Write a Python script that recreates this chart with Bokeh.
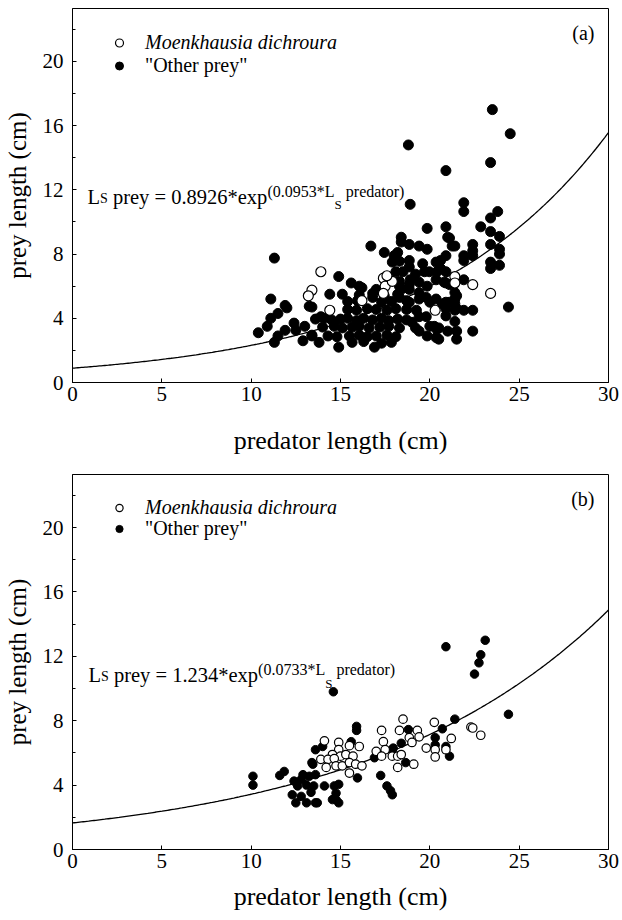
from bokeh.plotting import figure
from bokeh.models import Range1d, SingleIntervalTicker, Label, Legend, LegendItem
from bokeh.layouts import column
from bokeh.embed import file_html
from bokeh.resources import INLINE
import numpy as np

FONT = "Liberation Serif"

# ---------------- data: panel (a) ----------------
a_other_x = [11.3, 11.1, 11.9, 12.0, 11.5, 11.1, 10.9, 10.4, 11.5, 11.9, 12.4, 12.5, 13.0, 11.3, 12.9, 13.4, 13.4, 13.9,
             16.7, 17.45, 18.0, 18.2, 18.4, 18.85, 19.4, 19.85, 20.9, 21.25, 17.9, 18.3, 18.85, 18.85, 19.6, 20.35,
             18.1, 18.5, 19.2, 19.7, 19.97, 20.4, 20.9, 14.9, 14.4, 16.2, 17.0, 16.8, 18.3, 18.4, 18.9, 18.85, 19.4,
             19.85, 20.35, 20.8, 19.4, 20.0, 18.7, 18.3, 20.9, 21.5, 13.25, 14.9, 16.9, 19.2, 19.4, 20.0, 20.25, 20.4,
             19.85, 20.35, 21.0, 21.5, 21.5,
             13.6, 14.1, 14.5, 15.0, 15.4, 15.9, 16.3, 16.8, 17.3, 17.7, 18.2, 18.7,
             14.0, 14.65, 15.1, 15.65, 16.05, 16.6, 17.2, 17.7, 18.3,
             13.4, 14.3, 14.8, 15.5, 16.05, 16.5, 17.0, 17.6, 18.1,
             13.8, 15.65, 16.3, 17.3, 17.85,
             15.4, 15.9, 16.5, 17.0, 17.6, 18.1, 18.7, 19.25,
             15.4, 15.95, 17.3, 17.85, 18.85,
             15.1, 16.05, 16.8, 17.45, 18.2,
             15.6, 16.05, 18.3, 18.85,
             19.4, 19.8, 20.35, 20.7, 21.1, 21.5, 19.4, 19.8, 19.0,
             23.4, 20.9, 21.9, 21.9, 23.8, 23.4, 20.9, 22.85, 23.4, 23.9, 21.1, 21.4, 22.4, 22.4, 22.4, 23.4, 23.9,
             23.9, 21.9, 21.9, 20.6, 20.6, 23.4, 23.4, 23.9, 21.9, 20.9, 21.1, 21.4, 21.4, 21.4, 20.9, 20.9, 21.4,
             21.9, 22.4, 21.4, 22.4, 20.5, 20.5, 24.4,
             23.5, 24.5, 18.8, 18.9, 19.85, 21.0, 18.4]
a_other_y = [7.75, 5.2, 4.8, 4.65, 4.3, 4.0, 3.5, 3.1, 2.9, 3.25, 3.7, 3.25, 3.5, 2.5, 2.6, 4.7, 2.9, 4.1,
             8.5, 8.1, 7.9, 8.1, 8.75, 8.6, 8.5, 8.3, 7.9, 8.5, 7.5, 7.55, 7.6, 7.2, 7.4, 7.5,
             6.9, 6.9, 6.75, 6.9, 6.9, 6.9, 6.9, 6.6, 5.5, 5.9, 5.8, 5.3, 6.0, 5.8, 6.4, 5.8, 6.25,
             6.0, 6.4, 6.25, 5.2, 5.0, 5.1, 5.3, 4.6, 4.6, 4.75, 2.2, 2.2, 3.4, 3.2, 3.5, 3.5, 3.3,
             2.9, 2.8, 3.2, 3.2, 2.7,
             3.95, 4.0, 3.9, 3.95, 4.0, 3.85, 4.0, 3.9, 4.0, 3.85, 3.95, 3.9,
             3.45, 3.5, 3.4, 3.45, 3.5, 3.4, 3.45, 3.5, 3.4,
             2.95, 2.9, 2.85, 2.9, 2.95, 2.85, 2.9, 2.95, 2.85,
             2.5, 2.5, 2.55, 2.45, 2.5,
             4.55, 4.5, 4.6, 4.55, 4.5, 4.6, 4.55, 4.5,
             5.05, 5.1, 5.0, 5.05, 5.0,
             5.5, 5.45, 5.55, 5.4, 5.5,
             6.2, 6.0, 6.3, 6.1,
             5.6, 5.3, 5.2, 4.9, 5.0, 5.4, 4.1, 4.1, 3.75,
             13.7, 13.2, 11.2, 10.65, 10.65, 10.25, 9.7, 9.7, 9.4, 9.1, 9.0, 8.5, 8.6, 8.2, 7.9, 8.6, 8.3,
             8.0, 7.9, 7.6, 7.6, 7.1, 7.5, 7.1, 7.3, 6.4, 6.2, 6.1, 5.6, 5.2, 4.9, 5.0, 4.15, 4.5,
             4.5, 4.5, 3.8, 3.2, 3.4, 2.7, 4.7,
             17.0, 15.5, 14.8, 11.1, 9.6, 9.05, 9.05]
a_moenk_x = [13.4, 13.2, 13.9, 14.4, 16.2, 17.4, 17.5, 17.9, 17.4, 17.6, 20.3, 21.4, 21.4, 22.4, 23.4]
a_moenk_y = [5.75, 5.4, 6.9, 4.5, 5.1, 6.5, 6.0, 6.3, 5.55, 6.65, 4.5, 6.6, 6.2, 6.1, 5.55]

# ---------------- data: panel (b) ----------------
b_other_x = [10.1, 10.1, 11.6, 11.85, 12.4, 12.8, 12.9, 12.6, 13.1, 12.3, 12.8, 12.5, 13.1, 13.6, 13.5, 13.6, 13.4,
             13.6, 13.35, 20.9, 14.6, 15.9, 15.9, 21.4, 18.8, 20.7, 17.95, 18.4, 20.3, 20.3, 20.9, 21.1, 17.9,
             18.65, 16.9, 17.25, 17.6, 17.8, 17.9, 15.6, 14.0, 13.45, 13.25, 14.1, 14.65, 14.9, 14.75, 14.75,
             14.55, 14.9, 13.7, 15.95, 23.1, 22.85, 22.75, 22.5, 24.4]
b_other_y = [4.55, 4.0, 4.6, 4.85, 4.25, 4.35, 4.65, 3.95, 4.0, 3.4, 3.3, 2.9, 2.9, 2.9, 3.95, 4.65, 5.4,
             6.2, 3.55, 12.6, 9.8, 7.65, 7.4, 8.1, 7.45, 7.5, 6.3, 6.6, 6.95, 6.5, 6.4, 5.8, 6.2,
             5.4, 5.7, 4.6, 3.95, 3.65, 3.4, 6.7, 6.4, 5.3, 4.55, 3.95, 3.95, 4.05, 3.5, 3.1,
             3.1, 2.9, 2.9, 4.45, 13.0, 12.1, 11.6, 10.9, 8.4]
b_moenk_x = [18.5, 20.25, 17.3, 18.3, 19.3, 17.4, 18.85, 19.4, 19.0, 19.8, 20.3, 20.3, 20.9, 21.2, 17.5, 17.0,
             17.3, 17.9, 18.2, 18.4, 18.2, 19.1, 16.05, 15.5, 14.9, 14.9, 14.1, 14.55, 15.0, 15.3, 15.7, 13.9,
             14.3, 14.65, 14.2, 14.75, 15.1, 15.5, 15.85, 16.2, 15.5, 22.3, 22.4, 22.85]
b_moenk_y = [8.1, 7.9, 7.4, 7.4, 7.4, 6.7, 6.95, 7.0, 6.65, 6.3, 6.2, 5.75, 6.2, 6.9, 6.2, 6.1,
             5.8, 5.8, 5.8, 5.9, 5.1, 5.3, 6.4, 6.45, 6.65, 6.2, 6.75, 5.9, 5.8, 5.9, 5.8, 5.6,
             5.6, 5.65, 5.1, 5.2, 5.2, 5.4, 5.3, 5.2, 4.75, 7.6, 7.55, 7.1]

# fitted curves: (a) as printed; (b) as drawn in the picture (intercept ~1.65)
A_a, B_a = 0.8926, 0.0953
A_b, B_b = 1.65, 0.0733

X_TICKS = 5
Y_TICKS = 4
XMAX, YMAX = 30, 23.3
FW = 536


def panel(tag, ox, oy, mx, my, A, B, eq_pieces, fh, top, bottom, size, glyph_w, lab_standoff, rows):
    p = figure(frame_width=FW, frame_height=fh, x_range=Range1d(0, XMAX), y_range=Range1d(0, YMAX),
               output_backend="svg", toolbar_location=None,
               min_border_left=72, min_border_right=13, min_border_top=top, min_border_bottom=bottom)
    p.background_fill_color = "white"
    p.border_fill_color = "white"
    p.outline_line_color = "black"
    p.outline_line_width = 1
    p.grid.visible = False

    p.xaxis.ticker = SingleIntervalTicker(interval=X_TICKS, num_minor_ticks=0)
    p.yaxis.ticker = SingleIntervalTicker(interval=Y_TICKS, num_minor_ticks=2)
    for ax in (p.xaxis[0], p.yaxis[0]):
        ax.axis_line_color = "black"
        ax.major_tick_in = 4
        ax.major_tick_out = 0
        ax.minor_tick_in = 3
        ax.minor_tick_out = 0
        ax.major_tick_line_color = "black"
        ax.minor_tick_line_color = "black"
        ax.major_label_text_font = FONT
        ax.major_label_text_font_size = "21px"
        ax.major_label_text_color = "black"
        ax.axis_label_text_font = FONT
        ax.axis_label_text_font_style = "normal"
        ax.axis_label_text_color = "black"
    p.xaxis.axis_label_text_font_size = "26px"
    p.yaxis.axis_label_text_font_size = "25px"
    p.xaxis.minor_tick_line_color = None
    p.xaxis.axis_label = "predator length (cm)"
    p.yaxis.axis_label = "prey length (cm)"
    p.xaxis.major_label_standoff = 4
    p.xaxis.axis_label_standoff = lab_standoff
    p.yaxis.major_label_standoff = 9
    p.yaxis.axis_label_standoff = 9

    xs = np.linspace(0, XMAX, 300)
    p.line(xs, A * np.exp(B * xs), line_color="black", line_width=1.3)

    r_other = p.scatter(ox, oy, marker="circle", size=size, fill_color="black", line_color="black")
    r_moenk = p.scatter(mx, my, marker="circle", size=size, fill_color="white", line_color="black",
                        line_width=1.2)

    XS = FW / XMAX
    YS = fh / YMAX

    def dx(px):
        return px / XS

    def dy(px):
        return YMAX - px / YS

    for text, fs, px, pyy in eq_pieces:
        p.add_layout(Label(x=dx(px), y=dy(pyy), text=text, text_font=FONT, text_font_size=f"{fs}px",
                           text_align="left", text_baseline="alphabetic", text_color="black"))

    p.add_layout(Label(x=dx(FW - 14), y=dy(24), text=tag, text_font=FONT, text_font_size="20px",
                       text_align="right", text_baseline="alphabetic", text_color="black"))

    gh = 23
    box_l = int(47 - glyph_w / 2)
    leg1 = Legend(items=[LegendItem(label="Moenkhausia dichroura", renderers=[r_moenk])],
                  location=(box_l, int(fh - (rows[0] - gh / 2) - gh)), label_text_font_style="italic")
    leg2 = Legend(items=[LegendItem(label='"Other prey"', renderers=[r_other])],
                  location=(box_l, int(fh - (rows[1] - gh / 2) - gh)), label_text_font_style="normal")
    for lg in (leg1, leg2):
        lg.label_text_font = FONT
        lg.label_text_font_size = "20px"
        lg.label_text_color = "black"
        lg.glyph_width = glyph_w
        lg.glyph_height = gh
        lg.label_height = gh
        lg.label_standoff = int(73 - box_l - glyph_w)
        lg.padding = 0
        lg.spacing = 0
        lg.margin = 0
        lg.background_fill_alpha = 0
        lg.border_line_alpha = 0
        p.add_layout(lg)
    return p


# equation pieces: (text, font px, x px from frame left, baseline px from frame top)
eq_a = [("L", 20.5, 15, 188), ("S", 14, 27.5, 190), ("prey = 0.8926*exp", 20.5, 40.4, 188),
        ("(0.0953*L", 16, 195, 183), ("S", 13, 262, 196), ("predator)", 16, 273.3, 183)]
eq_b = [("L", 20.5, 16, 200), ("S", 14, 28.5, 202), ("prey = 1.234*exp", 20.5, 41.4, 200),
        ("(0.0733*L", 16, 185.6, 195), ("S", 13, 252.7, 209), ("predator)", 16, 263.9, 195)]

pa = panel("(a)", a_other_x, a_other_y, a_moenk_x, a_moenk_y, A_a, B_a, eq_a,
           374, 8, 80, 10, 20, 22, (34, 57))
pb = panel("(b)", b_other_x, b_other_y, b_moenk_x, b_moenk_y, A_b, B_b, eq_b,
           375, 12, 67, 8.5, 18, 11, (33, 54))

layout = column(pa, pb, spacing=0)
open("out.html", "w").write(file_html(layout, INLINE))
